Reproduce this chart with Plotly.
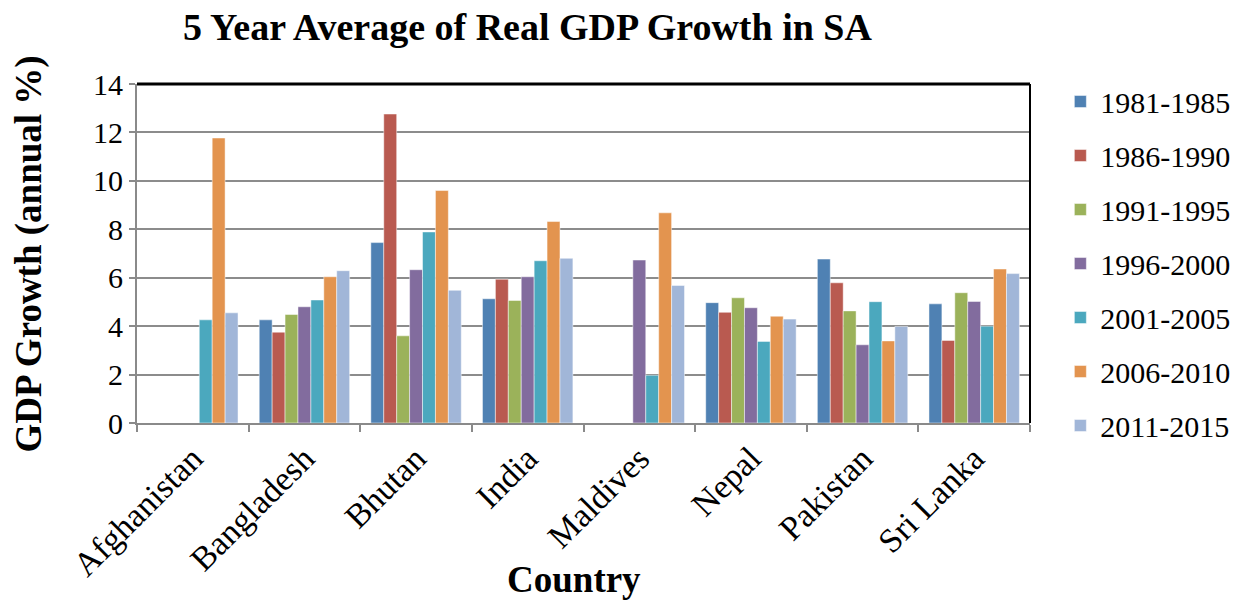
import plotly.graph_objects as go

countries = ["Afghanistan", "Bangladesh", "Bhutan", "India", "Maldives",
             "Nepal", "Pakistan", "Sri Lanka"]
periods = ["1981-1985", "1986-1990", "1991-1995", "1996-2000",
           "2001-2005", "2006-2010", "2011-2015"]

g_1981_1985 = [None, 4.26, 7.45, 5.13, None, 4.97, 6.77, 4.92]
g_1986_1990 = [None, 3.75, 12.76, 5.94, None, 4.57, 5.79, 3.41]
g_1991_1995 = [None, 4.48, 3.60, 5.06, None, 5.17, 4.63, 5.38]
g_1996_2000 = [None, 4.80, 6.33, 6.04, 6.73, 4.76, 3.23, 5.02]
g_2001_2005 = [4.26, 5.08, 7.89, 6.70, 1.97, 3.37, 5.01, 4.00]
g_2006_2010 = [11.77, 6.04, 9.60, 8.32, 8.68, 4.41, 3.39, 6.36]
g_2011_2015 = [4.55, 6.29, 5.48, 6.80, 5.68, 4.29, 3.99, 6.17]

series = [g_1981_1985, g_1986_1990, g_1991_1995, g_1996_2000,
          g_2001_2005, g_2006_2010, g_2011_2015]
colors = ["#4F81B3", "#B95A50", "#9BB25A", "#826C9E",
          "#4BA8BE", "#E3944F", "#A1B6D8"]

FONT = "Liberation Serif"
TICK_SIZE = 30
XTICK_SIZE = 34
TITLE_SIZE = 38
AXIS_TITLE_SIZE = 37

fig = go.Figure()
for name, vals, col in zip(periods, series, colors):
    fig.add_trace(go.Bar(
        x=countries, y=vals, name=name, legendgroup=name,
        marker=dict(color=col, line=dict(color="rgba(255,255,255,0.6)", width=0.8)),
    ))

fig.update_layout(
    width=1247, height=603,
    margin=dict(l=137, r=211, t=84, b=180),
    paper_bgcolor="white", plot_bgcolor="white",
    font=dict(family=FONT, color="black", size=TICK_SIZE),
    barmode="group", bargap=0.19, bargroupgap=0,
    title=dict(text="<b>5 Year Average of Real GDP Growth in SA</b>",
               x=0.423, xanchor="center", y=0.955, yanchor="middle",
               font=dict(family=FONT, size=TITLE_SIZE, color="black")),
    legend=dict(x=1.034, xanchor="left", y=1.025, yanchor="top",
                font=dict(family=FONT, size=TICK_SIZE, color="black"),
                tracegroupgap=12, itemwidth=30, maxheight=590,
                bgcolor="rgba(0,0,0,0)"),
    showlegend=True,
)

fig.update_xaxes(
    type="category", tickangle=-45, tickson="boundaries",
    ticks="outside", ticklen=7, tickcolor="#8a8a8a", tickwidth=2,
    showline=True, linecolor="#8a8a8a", linewidth=2,
    showgrid=False, tickfont=dict(family=FONT, size=XTICK_SIZE),
)
fig.update_yaxes(
    range=[0, 14], dtick=2, tick0=0,
    ticks="outside", ticklen=6, tickcolor="#8a8a8a", tickwidth=2,
    showline=True, linecolor="#8a8a8a", linewidth=2,
    showgrid=True, gridcolor="#8c8c8c", gridwidth=2, zeroline=False,
    tickfont=dict(family=FONT, size=TICK_SIZE),
)

# axis titles placed as annotations for exact positioning
fig.add_annotation(text="<b>GDP Growth (annual %)</b>", xref="paper", yref="paper",
                   x=-0.121, y=0.5, xanchor="center", yanchor="middle",
                   textangle=-90, showarrow=False,
                   font=dict(family=FONT, size=AXIS_TITLE_SIZE, color="black"))
fig.add_annotation(text="<b>Country</b>", xref="paper", yref="paper",
                   x=0.489, y=-0.463, xanchor="center", yanchor="middle",
                   showarrow=False,
                   font=dict(family=FONT, size=AXIS_TITLE_SIZE, color="black"))

# dark frame on the top and right edges of the plot area
fig.add_shape(type="line", xref="paper", yref="paper", x0=0, x1=1, y0=1, y1=1,
              line=dict(color="black", width=3))
fig.add_shape(type="line", xref="paper", yref="paper", x0=1, x1=1, y0=0, y1=1,
              line=dict(color="black", width=2))

fig.write_html("out.html")
